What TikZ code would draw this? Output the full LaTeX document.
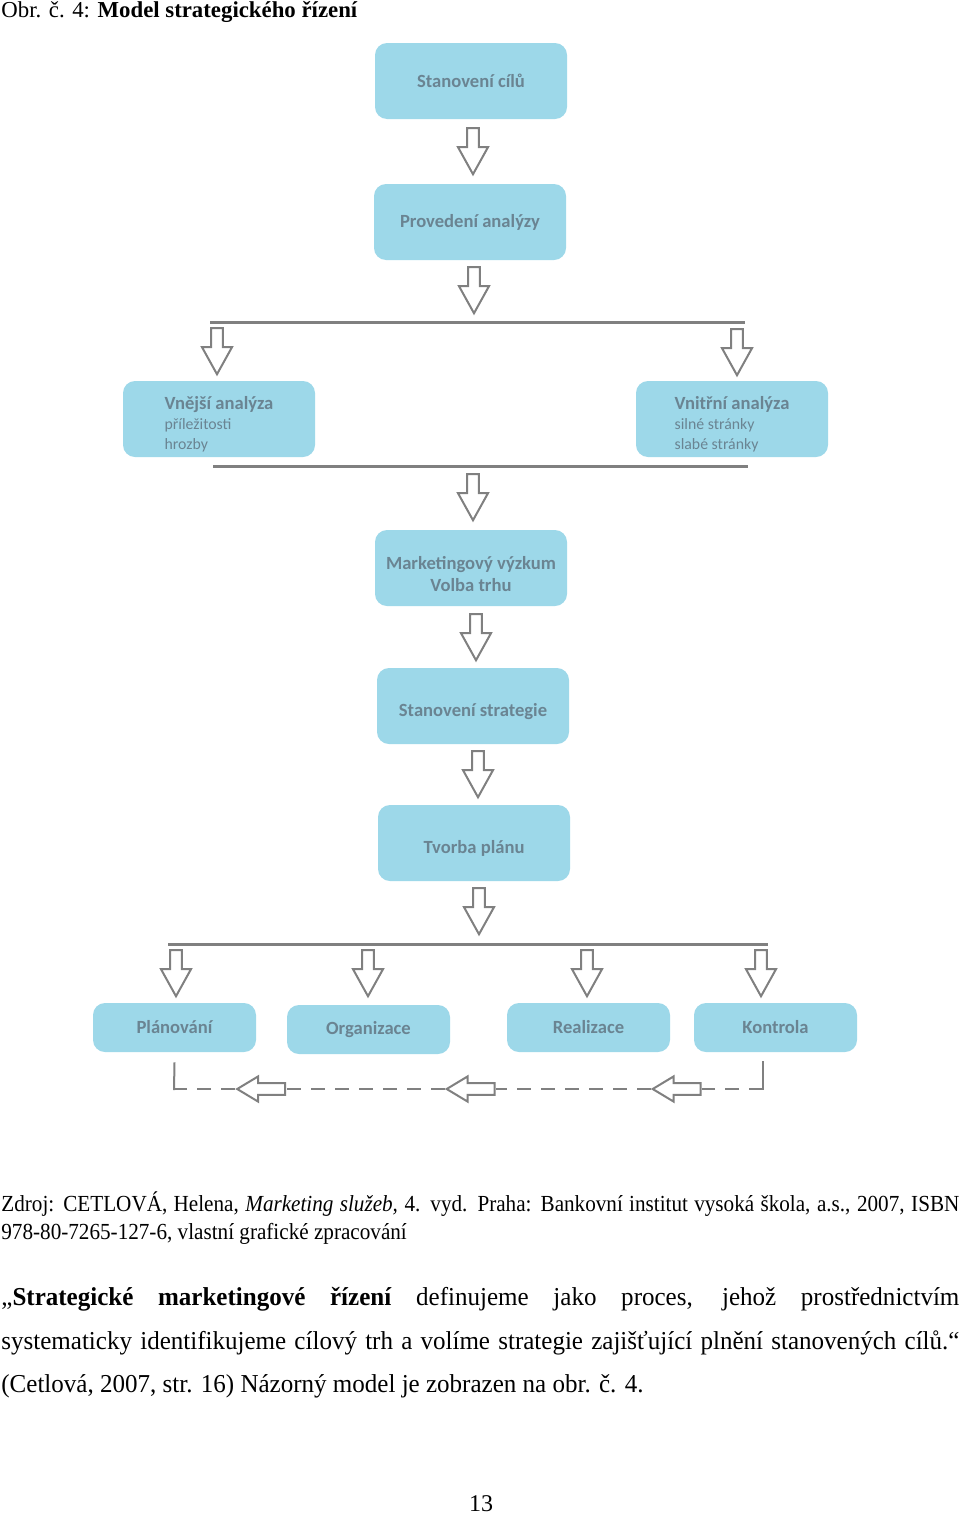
\documentclass[tikz,border=0pt]{standalone}
\usepackage{fontspec}
\setmainfont{Liberation Serif}
\newfontfamily\boxfont{Carlito}
\newfontfamily\narrowserif[FakeStretch=0.92]{Liberation Serif}
\newfontfamily\textserif[FakeStretch=0.97]{Liberation Serif}
\usepackage{xcolor}
\usepackage{tikz}
\usetikzlibrary{shapes,arrows,positioning,calc}

\definecolor{boxblue}{RGB}{157,216,233}
\definecolor{boxtext}{RGB}{106,132,146}
\definecolor{linegray}{RGB}{128,128,128}

\begin{document}
\begin{tikzpicture}[x=0.5pt, y=-0.5pt,
  box/.style={rectangle, rounded corners=6pt, fill=boxblue, text=boxtext,
              minimum width=96pt, minimum height=38pt, inner sep=2pt,
              font=\boxfont\bfseries\fontsize{9.3}{10}\selectfont, align=center},
  smallbox/.style={box, minimum width=81.5pt, minimum height=24.5pt},
  down/.style={single arrow, draw=linegray, line width=1pt, fill=white,
               inner sep=0pt, inner ysep=2.4pt, minimum height=23pt,
               single arrow head extend=4.6pt, single arrow tip angle=58,
               rotate=-90},
  back/.style={single arrow, draw=linegray, line width=1pt, fill=white,
               inner sep=0pt, inner ysep=2.4pt, minimum height=24pt,
               single arrow head extend=3.4pt, single arrow tip angle=62,
               rotate=180},
  bar/.style={draw=linegray, line width=1.5pt},
  vline/.style={draw=linegray, line width=1pt},
  loopline/.style={draw=linegray, line width=1.3pt, dash pattern=on 7pt off 5pt}
]
\fill[white] (0,0) rectangle (960,1515);
\useasboundingbox (0,0) rectangle (960,1515);

\node[anchor=base west, inner sep=0, font=\fontsize{11.4}{13}\selectfont] (caption) at (1,18)
  {Obr. č. 4: \textbf{Model strategického řízení}};

\node[box] (cile)    at (471,81)  {Stanovení cílů};
\node[box] (analyza) at (470,222) {Provedení analýzy};
\node[box, align=left, text height=32pt] (vnejsi) at (219,419) {
  Vnější analýza\\
  {\mdseries\fontsize{7.9}{10}\selectfont příležitosti}\\
  {\mdseries\fontsize{7.9}{10}\selectfont hrozby}
};
\node[box, align=left, text height=32pt] (vnitrni) at (732,419) {
  Vnitřní analýza\\
  {\mdseries\fontsize{7.9}{10}\selectfont silné stránky}\\
  {\mdseries\fontsize{7.9}{10}\selectfont slabé stránky}
};
\node[box, text height=24pt] (vyzkum) at (471,568) {Marketingový výzkum\\[1pt]Volba trhu};
\node[box, text height=12pt] (strategie) at (473,706) {Stanovení strategie};
\node[box, text height=12pt] (plan)      at (474,843) {Tvorba plánu};

\node[smallbox] (planovani)  at (174.5,1027.5) {Plánování};
\node[smallbox] (organizace) at (368.5,1029.5) {Organizace};
\node[smallbox] (realizace)  at (588.5,1027.5) {Realizace};
\node[smallbox] (kontrola)   at (775.5,1027.5) {Kontrola};

\node[down] (a1) at (473,146) {};
\node[down] (a2) at (474,285) {};
\node[down] (a3) at (217,346) {};
\node[down] (a4) at (737,347) {};
\node[down] (a5) at (473,492) {};
\node[down] (a6) at (476,632) {};
\node[down] (a7) at (478,769) {};
\node[down] (a8) at (479,906) {};
\node[down] (b1) at (176,968) {};
\node[down] (b2) at (368,968) {};
\node[down] (b3) at (587,968) {};
\node[down] (b4) at (761,968) {};

\coordinate (split1l) at (210,322);
\coordinate (split1r) at (745,322);
\coordinate (join1l)  at (213,466);
\coordinate (join1r)  at (748,466);
\coordinate (split2l) at (168,944);
\coordinate (split2r) at (768,944);
\draw[bar] (split1l) -- (split1r);
\draw[bar] (join1l) -- (join1r);
\draw[bar] (split2l) -- (split2r);

\node[back] (r1) at (266,1089) {};
\node[back] (r2) at (475.5,1089) {};
\node[back] (r3) at (681.5,1089) {};
\coordinate (ptop) at ([yshift=-5pt]planovani.south);
\coordinate (pbot) at (174,1090);
\coordinate (ktop) at (763,1061);
\coordinate (kbot) at (763,1090);
\draw[vline] (ptop) -- (pbot);
\draw[vline] (ktop) -- (kbot);
\draw[loopline] (763,1089) -- (r3.tail);
\draw[loopline] (r3.tip) -- (r2.tail);
\draw[loopline] (r2.tip) -- (r1.tail);
\draw[loopline] (r1.tip) -- (174,1089);

\node[anchor=north west, inner sep=0, text width=479pt, align=justify,
      font=\narrowserif\fontsize{11.5}{14}\selectfont] (zdroj) at (1,1191)
  {Zdroj: CETLOVÁ, Helena, \textit{Marketing služeb,} 4. vyd. Praha: Bankovní institut vysoká škola, a.s., 2007, ISBN\linebreak
   978-80-7265-127-6, vlastní grafické zpracování};

\node[anchor=north west, inner sep=0, text width=479pt, align=justify,
      font=\textserif\fontsize{12.9}{21.7}\selectfont] (citace) at (1,1287)
  {„\textbf{Strategické marketingové řízení} definujeme jako proces, jehož prostřednictvím\linebreak
   systematicky identifikujeme cílový trh a volíme strategie zajišťující plnění stanovených cílů.“\linebreak
   (Cetlová, 2007, str. 16) Názorný model je zobrazen na obr. č. 4.};

\node[anchor=base, inner sep=0, font=\fontsize{12}{14}\selectfont] (strana) at (481,1511) {13};
\end{tikzpicture}
\end{document}
